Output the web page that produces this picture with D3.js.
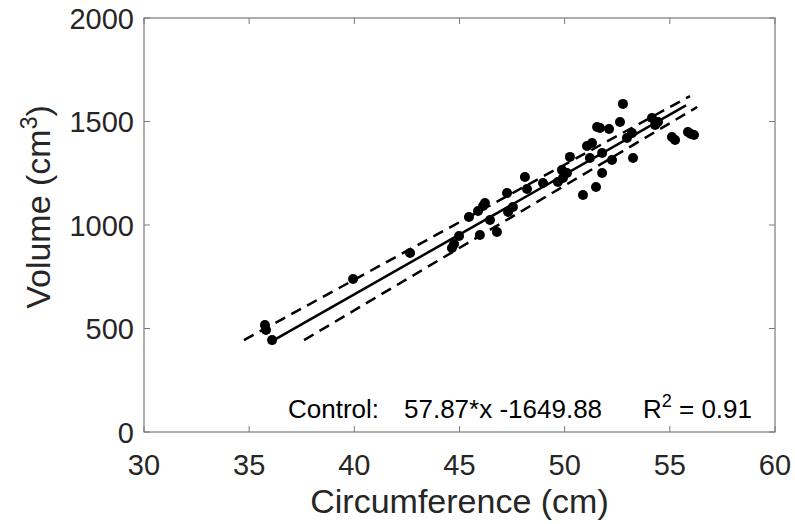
<!DOCTYPE html>
<html><head><meta charset="utf-8">
<script src="https://cdn.jsdelivr.net/npm/d3@7"></script>
<style>body{margin:0;background:#fff}svg{display:block}text{font-family:"Liberation Sans",Arial,Helvetica,sans-serif}</style>
</head><body>
<svg id="c" width="795" height="524"></svg>
<script>
const circumference = [35.75,35.80,36.09,39.94,42.65,44.64,44.74,44.98,45.45,45.88,46.12,46.21,45.97,46.45,46.78,47.31,47.54,47.26,48.11,48.21,48.97,49.68,49.87,49.92,50.11,50.25,50.87,51.06,51.30,51.20,51.49,51.54,51.68,51.78,51.78,52.11,52.25,52.63,52.77,52.96,53.20,53.25,54.15,54.44,54.30,55.10,55.25,55.86,56.00,56.15];
const volume = [517,493,444,739,865,889,908,947,1039,1068,1092,1106,952,1024,966,1063,1087,1155,1232,1174,1203,1208,1266,1227,1251,1329,1145,1382,1396,1324,1184,1473,1469,1348,1251,1464,1314,1498,1585,1420,1444,1324,1517,1498,1483,1425,1411,1449,1440,1435];
const fitLine = {x:[36.09,55.77]};
const slope = 57.87, intercept = -1649.88;
const upperBound = {x:[34.75,55.96], y:[444,1623]};
const lowerBound = {x:[37.61,56.30], y:[444,1570]};
const xTicks = [30,35,40,45,50,55,60];
const yTicks = [0,500,1000,1500,2000];
const xLabel = "Circumference (cm)";
const annotation = {label:"Control:", eq:"57.87*x -1649.88", r2:"= 0.91"};

const svg = d3.select("#c");
const L=144,T=18,W=631,H=414;
const x = d3.scaleLinear().domain([30,60]).range([L,L+W]);
const y = d3.scaleLinear().domain([0,2000]).range([T+H,T]);
const g = svg.append("g");

// box
g.append("rect").attr("x",L).attr("y",T).attr("width",W).attr("height",H)
 .attr("fill","none").attr("stroke","#7a7a7a").attr("stroke-width",1.2);

const tl=6, tf=29;
xTicks.forEach(t=>{
  g.append("line").attr("x1",x(t)).attr("x2",x(t)).attr("y1",T+H).attr("y2",T+H-tl).attr("stroke","#7a7a7a");
  g.append("line").attr("x1",x(t)).attr("x2",x(t)).attr("y1",T).attr("y2",T+tl).attr("stroke","#7a7a7a");
  g.append("text").attr("x",x(t)).attr("y",T+H+43).attr("text-anchor","middle")
   .attr("font-size",tf).attr("fill","#262626").text(t);
});
yTicks.forEach(t=>{
  g.append("line").attr("x1",L).attr("x2",L+tl).attr("y1",y(t)).attr("y2",y(t)).attr("stroke","#7a7a7a");
  g.append("line").attr("x1",L+W).attr("x2",L+W-tl).attr("y1",y(t)).attr("y2",y(t)).attr("stroke","#7a7a7a");
  g.append("text").attr("x",L-10).attr("y",y(t)+10.5).attr("text-anchor","end")
   .attr("font-size",tf).attr("fill","#262626").text(t);
});

// axis labels
g.append("text").attr("x",(L+L+W)/2).attr("y",513).attr("text-anchor","middle")
 .attr("font-size",34).attr("fill","#262626").text(xLabel);
const yl = g.append("text").attr("transform",`translate(50,207) rotate(-90)`).attr("text-anchor","middle")
 .attr("font-size",34).attr("fill","#262626");
yl.append("tspan").text("Volume (cm");
yl.append("tspan").attr("dy",-13).attr("font-size",23).text("3");
yl.append("tspan").attr("dy",13).text(")");

// lines
const line = d3.line().x(d=>x(d[0])).y(d=>y(d[1]));
g.append("path").attr("d",line(fitLine.x.map(v=>[v,slope*v+intercept])))
 .attr("stroke","#000").attr("stroke-width",2.5).attr("fill","none");
[upperBound,lowerBound].forEach(b=>{
  g.append("path").attr("d",line(b.x.map((v,i)=>[v,b.y[i]])))
   .attr("stroke","#000").attr("stroke-width",2.5).attr("fill","none").attr("stroke-dasharray","11,7");
});

// points
g.selectAll("circle").data(circumference.map((c,i)=>[c,volume[i]])).join("circle")
 .attr("cx",d=>x(d[0])).attr("cy",d=>y(d[1])).attr("r",5).attr("fill","#000");

// annotation
const ay=418, af=26;
g.append("text").attr("x",288).attr("y",ay).attr("font-size",af).attr("fill","#000").text(annotation.label);
g.append("text").attr("x",404).attr("y",ay).attr("font-size",af).attr("fill","#000").text(annotation.eq);
const r = g.append("text").attr("x",643).attr("y",ay).attr("font-size",af).attr("fill","#000");
r.append("tspan").text("R");
r.append("tspan").attr("dy",-11).attr("font-size",18).text("2");
g.append("text").attr("x",752).attr("y",ay).attr("text-anchor","end").attr("font-size",af).attr("fill","#000").text(annotation.r2);
</script>
</body></html>
